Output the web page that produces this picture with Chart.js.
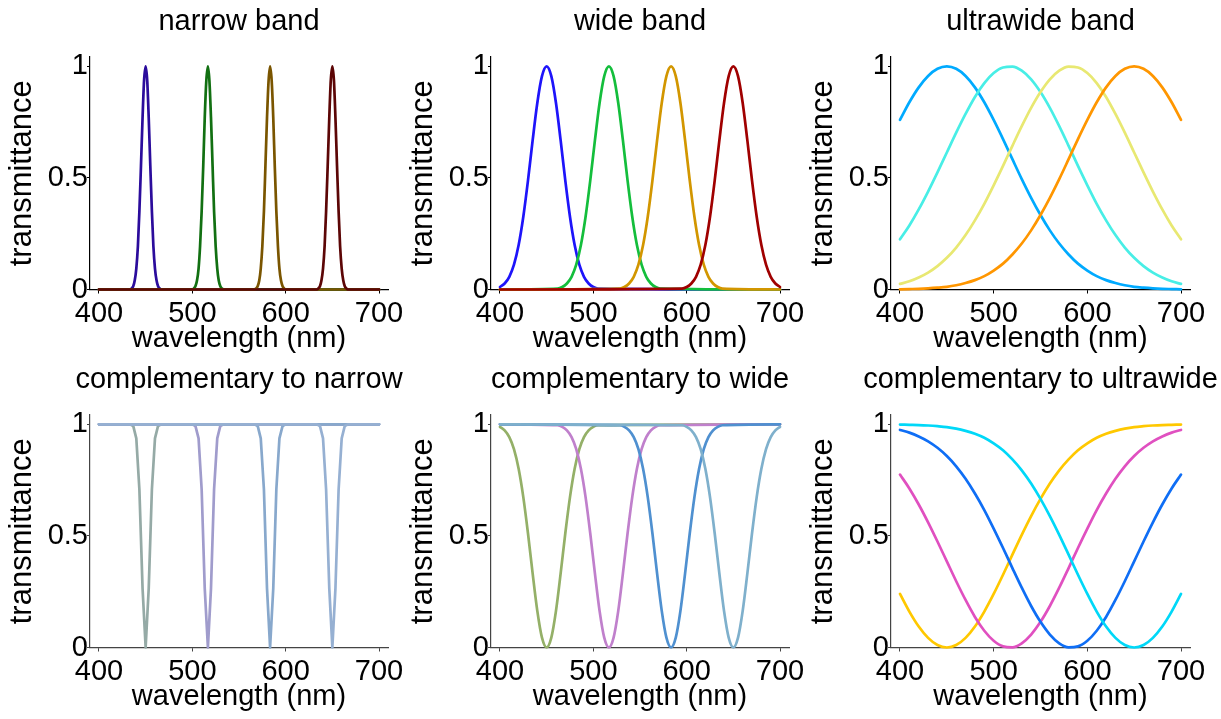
<!DOCTYPE html>
<html>
<head>
<meta charset="utf-8">
<script src="https://cdn.jsdelivr.net/npm/chart.js@4.4.1/dist/chart.umd.min.js"></script>
<style>
html, body { margin: 0; padding: 0; background: #ffffff; width: 1221px; height: 719px; overflow: hidden; position: relative; }
canvas { position: absolute; }
</style>
</head>
<body>
<canvas id="p1"></canvas>
<canvas id="p2"></canvas>
<canvas id="p3"></canvas>
<canvas id="p4"></canvas>
<canvas id="p5"></canvas>
<canvas id="p6"></canvas>
<script>
// ---------------- text ----------------
const panelTitles = ['narrow band', 'wide band', 'ultrawide band',
  'complementary to narrow', 'complementary to wide', 'complementary to ultrawide'];
const xAxisTitle = 'wavelength (nm)';
const yAxisTitle = 'transmittance';
const xTicks = [400, 500, 600, 700];
const xTickLabels = ['400', '500', '600', '700'];
const yTicks = [0, 0.5, 1];
const yTickLabels = ['0', '0.5', '1'];

// ---------------- narrow band (wavelength samples + transmittance) ----------------
const narrowX450 = [400, 433.3, 435, 436.7, 438.3, 440, 441.7, 443.3, 445, 446.7, 448.3, 450, 451.7, 453.3, 455, 456.7, 458.3, 460, 461.7, 463.3, 465, 466.7, 700];
const narrowX517 = [400, 500, 501.7, 503.3, 505, 506.7, 508.3, 510, 511.7, 513.3, 515, 516.7, 518.3, 520, 521.7, 523.3, 525, 526.7, 528.3, 530, 531.7, 533.3, 700];
const narrowX583 = [400, 566.7, 568.3, 570, 571.7, 573.3, 575, 576.7, 578.3, 580, 581.7, 583.3, 585, 586.7, 588.3, 590, 591.7, 593.3, 595, 596.7, 598.3, 600, 700];
const narrowX650 = [400, 633.3, 635, 636.7, 638.3, 640, 641.7, 643.3, 645, 646.7, 648.3, 650, 651.7, 653.3, 655, 656.7, 658.3, 660, 661.7, 663.3, 665, 666.7, 700];
const narrowBlue  = [0, 0, 0.005, 0.015, 0.040, 0.094, 0.194, 0.350, 0.554, 0.769, 0.936, 1, 0.936, 0.769, 0.554, 0.350, 0.194, 0.094, 0.040, 0.015, 0.005, 0, 0];
const narrowGreen = [0, 0, 0.005, 0.015, 0.040, 0.094, 0.194, 0.350, 0.554, 0.769, 0.936, 1, 0.936, 0.769, 0.554, 0.350, 0.194, 0.094, 0.040, 0.015, 0.005, 0, 0];
const narrowBrown = [0, 0, 0.005, 0.015, 0.040, 0.094, 0.194, 0.350, 0.554, 0.769, 0.936, 1, 0.936, 0.769, 0.554, 0.350, 0.194, 0.094, 0.040, 0.015, 0.005, 0, 0];
const narrowRed   = [0, 0, 0.005, 0.015, 0.040, 0.094, 0.194, 0.350, 0.554, 0.769, 0.936, 1, 0.936, 0.769, 0.554, 0.350, 0.194, 0.094, 0.040, 0.015, 0.005, 0, 0];

// complementary to narrow (coarser sampling, visible corners)
const complNarrowX450 = [400, 433.3, 436.7, 440, 443.3, 446.7, 450, 453.3, 456.7, 460, 463.3, 466.7, 700];
const complNarrowX517 = [400, 500, 503.3, 506.7, 510, 513.3, 516.7, 520, 523.3, 526.7, 530, 533.3, 700];
const complNarrowX583 = [400, 566.7, 570, 573.3, 576.7, 580, 583.3, 586.7, 590, 593.3, 596.7, 600, 700];
const complNarrowX650 = [400, 633.3, 636.7, 640, 643.3, 646.7, 650, 653.3, 656.7, 660, 663.3, 666.7, 700];
const complNarrow450 = [1, 1, 0.993, 0.937, 0.708, 0.265, 0, 0.265, 0.708, 0.937, 0.993, 1, 1];
const complNarrow517 = [1, 1, 0.993, 0.937, 0.708, 0.265, 0, 0.265, 0.708, 0.937, 0.993, 1, 1];
const complNarrow583 = [1, 1, 0.993, 0.937, 0.708, 0.265, 0, 0.265, 0.708, 0.937, 0.993, 1, 1];
const complNarrow650 = [1, 1, 0.993, 0.937, 0.708, 0.265, 0, 0.265, 0.708, 0.937, 0.993, 1, 1];

// ---------------- wide band ----------------
const wideX450 = [400, 405, 410, 415, 420, 425, 430, 435, 440, 445, 450, 455, 460, 465, 470, 475, 480, 485, 490, 495, 500, 505, 700];
const wideX517 = [400, 461.7, 466.7, 471.7, 476.7, 481.7, 486.7, 491.7, 496.7, 501.7, 506.7, 511.7, 516.7, 521.7, 526.7, 531.7, 536.7, 541.7, 546.7, 551.7, 556.7, 561.7, 566.7, 571.7, 700];
const wideX583 = [400, 528.3, 533.3, 538.3, 543.3, 548.3, 553.3, 558.3, 563.3, 568.3, 573.3, 578.3, 583.3, 588.3, 593.3, 598.3, 603.3, 608.3, 613.3, 618.3, 623.3, 628.3, 633.3, 638.3, 700];
const wideX650 = [400, 595, 600, 605, 610, 615, 620, 625, 630, 635, 640, 645, 650, 655, 660, 665, 670, 675, 680, 685, 690, 695, 700];
const wideBlue  = [0.011, 0.027, 0.057, 0.111, 0.199, 0.326, 0.488, 0.668, 0.836, 0.956, 1, 0.956, 0.836, 0.668, 0.488, 0.326, 0.199, 0.111, 0.057, 0.027, 0.011, 0.004, 0];
const wideGreen = [0, 0.004, 0.011, 0.027, 0.057, 0.111, 0.199, 0.326, 0.488, 0.668, 0.836, 0.956, 1, 0.956, 0.836, 0.668, 0.488, 0.326, 0.199, 0.111, 0.057, 0.027, 0.011, 0.004, 0];
const wideGold  = [0, 0.004, 0.011, 0.027, 0.057, 0.111, 0.199, 0.326, 0.488, 0.668, 0.836, 0.956, 1, 0.956, 0.836, 0.668, 0.488, 0.326, 0.199, 0.111, 0.057, 0.027, 0.011, 0.004, 0];
const wideRed   = [0, 0.004, 0.011, 0.027, 0.057, 0.111, 0.199, 0.326, 0.488, 0.668, 0.836, 0.956, 1, 0.956, 0.836, 0.668, 0.488, 0.326, 0.199, 0.111, 0.057, 0.027, 0.011];
const complWide450 = [0.989, 0.973, 0.943, 0.889, 0.801, 0.674, 0.512, 0.332, 0.164, 0.044, 0, 0.044, 0.164, 0.332, 0.512, 0.674, 0.801, 0.889, 0.943, 0.973, 0.989, 0.996, 1];
const complWide517 = [1, 0.996, 0.989, 0.973, 0.943, 0.889, 0.801, 0.674, 0.512, 0.332, 0.164, 0.044, 0, 0.044, 0.164, 0.332, 0.512, 0.674, 0.801, 0.889, 0.943, 0.973, 0.989, 0.996, 1];
const complWide583 = [1, 0.996, 0.989, 0.973, 0.943, 0.889, 0.801, 0.674, 0.512, 0.332, 0.164, 0.044, 0, 0.044, 0.164, 0.332, 0.512, 0.674, 0.801, 0.889, 0.943, 0.973, 0.989, 0.996, 1];
const complWide650 = [1, 0.996, 0.989, 0.973, 0.943, 0.889, 0.801, 0.674, 0.512, 0.332, 0.164, 0.044, 0, 0.044, 0.164, 0.332, 0.512, 0.674, 0.801, 0.889, 0.943, 0.973, 0.989];

// ---------------- ultrawide band ----------------
const ultraX = [400, 410, 420, 430, 440, 450, 460, 470, 480, 490, 500, 510, 520, 530, 540, 550, 560, 570, 580, 590, 600, 610, 620, 630, 640, 650, 660, 670, 680, 690, 700];
const ultraBlue   = [0.760, 0.839, 0.906, 0.957, 0.989, 1, 0.989, 0.957, 0.906, 0.839, 0.760, 0.674, 0.584, 0.495, 0.411, 0.334, 0.265, 0.206, 0.157, 0.116, 0.085, 0.060, 0.042, 0.029, 0.019, 0.012, 0.008, 0.005, 0.003, 0.002, 0.001];
const ultraCyan   = [0.225, 0.287, 0.359, 0.439, 0.525, 0.614, 0.703, 0.787, 0.863, 0.925, 0.970, 0.995, 0.999, 0.981, 0.942, 0.885, 0.814, 0.732, 0.644, 0.554, 0.467, 0.384, 0.310, 0.244, 0.188, 0.142, 0.105, 0.076, 0.054, 0.037, 0.025];
const ultraYellow = [0.025, 0.037, 0.054, 0.076, 0.105, 0.142, 0.188, 0.244, 0.310, 0.384, 0.467, 0.554, 0.644, 0.732, 0.814, 0.885, 0.942, 0.981, 0.999, 0.995, 0.970, 0.925, 0.863, 0.787, 0.703, 0.614, 0.525, 0.439, 0.359, 0.287, 0.225];
const ultraOrange = [0.001, 0.002, 0.003, 0.005, 0.008, 0.012, 0.019, 0.029, 0.042, 0.060, 0.085, 0.116, 0.157, 0.206, 0.265, 0.334, 0.411, 0.495, 0.584, 0.674, 0.760, 0.839, 0.906, 0.957, 0.989, 1, 0.989, 0.957, 0.906, 0.839, 0.760];
const complUltra450 = [0.240, 0.161, 0.094, 0.043, 0.011, 0, 0.011, 0.043, 0.094, 0.161, 0.240, 0.326, 0.416, 0.505, 0.589, 0.666, 0.735, 0.794, 0.843, 0.884, 0.915, 0.940, 0.958, 0.971, 0.981, 0.988, 0.992, 0.995, 0.997, 0.998, 0.999];
const complUltra517 = [0.775, 0.713, 0.641, 0.561, 0.475, 0.386, 0.297, 0.213, 0.137, 0.075, 0.030, 0.005, 0.001, 0.019, 0.058, 0.115, 0.186, 0.268, 0.356, 0.446, 0.533, 0.616, 0.690, 0.756, 0.812, 0.858, 0.895, 0.924, 0.946, 0.963, 0.975];
const complUltra583 = [0.975, 0.963, 0.946, 0.924, 0.895, 0.858, 0.812, 0.756, 0.690, 0.616, 0.533, 0.446, 0.356, 0.268, 0.186, 0.115, 0.058, 0.019, 0.001, 0.005, 0.030, 0.075, 0.137, 0.213, 0.297, 0.386, 0.475, 0.561, 0.641, 0.713, 0.775];
const complUltra650 = [0.999, 0.998, 0.997, 0.995, 0.992, 0.988, 0.981, 0.971, 0.958, 0.940, 0.915, 0.884, 0.843, 0.794, 0.735, 0.666, 0.589, 0.505, 0.416, 0.326, 0.240, 0.161, 0.094, 0.043, 0.011, 0, 0.011, 0.043, 0.094, 0.161, 0.240];

// ---------------- colours ----------------
const narrowColors = ['#2b0c9c', '#127012', '#7a5500', '#5c0606'];
const wideColors = ['#1e14fa', '#14be3c', '#d29600', '#a00000'];
const ultraColors = ['#00aaff', '#48eee6', '#e8e872', '#ff9600'];
const complNarrowColors = ['#95aaa6', '#a09ccc', '#88a8cc', '#96b0d2'];
const complWideColors = ['#94b068', '#c080cc', '#4f90d0', '#7fb0cc'];
const complUltraColors = ['#ffc800', '#e050c0', '#0f6ef5', '#00d8f8'];

// ---------------- layout ----------------
const FONT = "'Liberation Sans', Arial, Helvetica, sans-serif";
const SIDE = 90;          // width of the left axis block (and mirrored right block)
const CH = 360;           // canvas height
const XAXIS_H = 70.5;     // height of the x axis block

function pairs(xs, ys) { return xs.map((x, i) => ({ x: x, y: ys[i] })); }

function series(xs, ys, color, idx, smooth) {
  return {
    data: pairs(xs, ys),
    borderColor: color,
    borderWidth: 2.7,
    pointRadius: 0,
    fill: false,
    clip: 5,
    order: 4 - idx,
    borderJoinStyle: 'round',
    borderCapStyle: 'round',
    tension: 0,
    cubicInterpolationMode: smooth ? 'monotone' : 'default'
  };
}

function makeChart(id, left, top, plotW, title, datasets, axisColor) {
  const cv = document.getElementById(id);
  const W = SIDE * 2 + plotW;
  cv.width = W; cv.height = CH;
  cv.style.left = left + 'px'; cv.style.top = top + 'px';
  cv.style.width = W + 'px'; cv.style.height = CH + 'px';
  return new Chart(cv.getContext('2d'), {
    type: 'line',
    data: { datasets: datasets },
    options: {
      responsive: false,
      devicePixelRatio: 1,
      animation: false,
      events: [],
      layout: { padding: 0 },
      plugins: {
        legend: { display: false },
        tooltip: { enabled: false },
        title: {
          display: true, text: title, color: '#000',
          font: { family: FONT, size: 29, weight: 'normal', lineHeight: 1.2 },
          padding: { top: 4.6, bottom: 17.6 }
        }
      },
      scales: {
        x: {
          type: 'linear', position: 'bottom', min: 390.4, max: 709.6,
          afterBuildTicks: s => { s.ticks = xTicks.map(v => ({ value: v })); },
          afterFit: s => { s.height = XAXIS_H; },
          ticks: {
            color: '#000', font: { family: FONT, size: 29 }, padding: 3.5,
            maxRotation: 0, autoSkip: false,
            callback: v => xTickLabels[xTicks.indexOf(v)]
          },
          grid: { display: true, drawOnChartArea: false, drawTicks: true, tickLength: 4, color: axisColor, lineWidth: 1 },
          border: { display: true, color: axisColor, width: 1.2 },
          title: {
            display: true, text: xAxisTitle, color: '#000',
            font: { family: FONT, size: 29, lineHeight: 1.2 },
            padding: { top: 0, bottom: 3.6 }
          }
        },
        y: {
          type: 'linear', position: 'left', min: 0, max: 1.042,
          afterBuildTicks: s => { s.ticks = yTicks.map(v => ({ value: v })); },
          afterFit: s => { s.width = SIDE; },
          ticks: {
            color: '#000', font: { family: FONT, size: 29 }, padding: -1,
            callback: v => yTickLabels[yTicks.indexOf(v)]
          },
          grid: { display: true, drawOnChartArea: false, drawTicks: true, tickLength: 3, color: axisColor, lineWidth: 1 },
          border: { display: true, color: axisColor, width: 1.2 },
          title: {
            display: true, text: yAxisTitle, color: '#000',
            font: { family: FONT, size: 31, lineHeight: 1.2 },
            padding: { top: 4, bottom: 0 }
          }
        },
        yRight: {
          type: 'linear', position: 'right', min: 0, max: 1,
          afterFit: s => { s.width = SIDE; },
          ticks: { display: false },
          grid: { display: false },
          border: { display: false }
        }
      }
    }
  });
}

Chart.defaults.font.family = FONT;

makeChart('p1', 0, 0, 298, panelTitles[0], [
  series(narrowX450, narrowBlue, narrowColors[0], 0, true),
  series(narrowX517, narrowGreen, narrowColors[1], 1, true),
  series(narrowX583, narrowBrown, narrowColors[2], 2, true),
  series(narrowX650, narrowRed, narrowColors[3], 3, true)
], '#000');

makeChart('p2', 401, 0, 298, panelTitles[1], [
  series(wideX450, wideBlue, wideColors[0], 0, true),
  series(wideX517, wideGreen, wideColors[1], 1, true),
  series(wideX583, wideGold, wideColors[2], 2, true),
  series(wideX650, wideRed, wideColors[3], 3, true)
], '#000');

makeChart('p3', 801, 0, 299, panelTitles[2], [
  series(ultraX, ultraBlue, ultraColors[0], 0, true),
  series(ultraX, ultraCyan, ultraColors[1], 1, true),
  series(ultraX, ultraYellow, ultraColors[2], 2, true),
  series(ultraX, ultraOrange, ultraColors[3], 3, true)
], '#000');

makeChart('p4', 0, 358, 298, panelTitles[3], [
  series(complNarrowX450, complNarrow450, complNarrowColors[0], 0, false),
  series(complNarrowX517, complNarrow517, complNarrowColors[1], 1, false),
  series(complNarrowX583, complNarrow583, complNarrowColors[2], 2, false),
  series(complNarrowX650, complNarrow650, complNarrowColors[3], 3, false)
], '#444');

makeChart('p5', 401, 358, 298, panelTitles[4], [
  series(wideX450, complWide450, complWideColors[0], 0, true),
  series(wideX517, complWide517, complWideColors[1], 1, true),
  series(wideX583, complWide583, complWideColors[2], 2, true),
  series(wideX650, complWide650, complWideColors[3], 3, true)
], '#444');

makeChart('p6', 801, 358, 299, panelTitles[5], [
  series(ultraX, complUltra450, complUltraColors[0], 0, true),
  series(ultraX, complUltra517, complUltraColors[1], 1, true),
  series(ultraX, complUltra583, complUltraColors[2], 2, true),
  series(ultraX, complUltra650, complUltraColors[3], 3, true)
], '#444');
</script>
</body>
</html>
